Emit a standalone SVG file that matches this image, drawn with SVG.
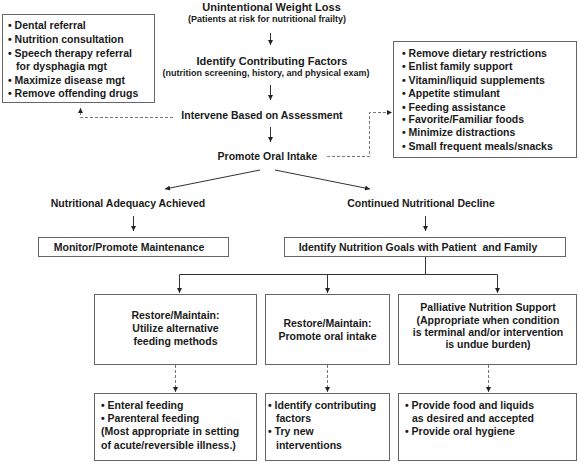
<svg xmlns="http://www.w3.org/2000/svg" width="578" height="462" viewBox="0 0 578 462">
<defs>
<style>
.t{font-family:"Liberation Sans",Arial,sans-serif;font-weight:bold;font-size:10.5px;fill:#1a1a1a}
.c{text-anchor:middle}
.s{font-size:9px}
.h{font-size:11px}
.box{fill:#fff;stroke:#666;stroke-width:1}
.ln{stroke:#333;fill:none;stroke-width:1}
.dash{stroke:#777;fill:none;stroke-width:1;stroke-dasharray:3 2}
</style>
<marker id="ah" viewBox="0 0 10 10" refX="10" refY="5" markerWidth="7" markerHeight="5" markerUnits="userSpaceOnUse" orient="auto">
<path d="M0,0 L10,5 L0,10 z" fill="#222"/>
</marker>
</defs>
<rect width="578" height="462" fill="#fff"/>
<g id="connectors">
<line class="ln" x1="270.5" y1="33" x2="270.5" y2="45" marker-end="url(#ah)"/>
<line class="ln" x1="270.5" y1="85" x2="270.5" y2="100" marker-end="url(#ah)"/>
<line class="ln" x1="270.5" y1="127" x2="270.5" y2="142" marker-end="url(#ah)"/>
<polyline class="dash" points="173,117.5 80.5,117.5 80.5,108" marker-end="url(#ah)"/>
<polyline class="dash" points="327,156.5 369.5,156.5 369.5,112.5 392,112.5" marker-end="url(#ah)"/>
<line class="ln" x1="260" y1="170" x2="165" y2="189" marker-end="url(#ah)"/>
<line class="ln" x1="275" y1="170" x2="370" y2="189" marker-end="url(#ah)"/>
<line class="ln" x1="133.5" y1="216" x2="133.5" y2="231" marker-end="url(#ah)"/>
<line class="ln" x1="425.5" y1="216" x2="425.5" y2="231" marker-end="url(#ah)"/>
<polyline class="ln" points="425.5,256 425.5,274.5"/>
<polyline class="ln" points="179.5,293 179.5,274.5 497.5,274.5 497.5,293" marker-end="url(#ah)"/>
<line class="ln" x1="179.5" y1="280" x2="179.5" y2="293" marker-end="url(#ah)"/>
<line class="ln" x1="327.5" y1="274.5" x2="327.5" y2="293" marker-end="url(#ah)"/>
<line class="dash" x1="175.5" y1="365" x2="175.5" y2="392" marker-end="url(#ah)"/>
<line class="dash" x1="327.5" y1="365" x2="327.5" y2="392" marker-end="url(#ah)"/>
<line class="dash" x1="488.5" y1="365" x2="488.5" y2="392" marker-end="url(#ah)"/>
</g>
<g id="weight-loss">
<text class="t c h" x="271.5" y="11">Unintentional Weight Loss</text>
<text class="t c s" x="267" y="22">(Patients at risk for nutritional frailty)</text>
</g>
<g id="contributing">
<text class="t c h" x="272" y="65">Identify Contributing Factors</text>
<text class="t c s" x="266" y="76">(nutrition screening, history, and physical exam)</text>
</g>
<g id="left-list">
<rect class="box" x="2.5" y="14.5" width="152" height="88"/>
<text class="t" x="8" y="29">• Dental referral</text>
<text class="t" x="8" y="43">• Nutrition consultation</text>
<text class="t" x="8" y="57">• Speech therapy referral</text>
<text class="t" x="16" y="70">for dysphagia mgt</text>
<text class="t" x="8" y="84">• Maximize disease mgt</text>
<text class="t" x="8" y="97">• Remove offending drugs</text>
</g>
<g id="right-list">
<rect class="box" x="393.5" y="41.5" width="183" height="116"/>
<text class="t" x="402" y="57">• Remove dietary restrictions</text>
<text class="t" x="402" y="70">• Enlist family support</text>
<text class="t" x="402" y="84">• Vitamin/liquid supplements</text>
<text class="t" x="402" y="97">• Appetite stimulant</text>
<text class="t" x="402" y="111">• Feeding assistance</text>
<text class="t" x="402" y="123">• Favorite/Familiar foods</text>
<text class="t" x="402" y="136">• Minimize distractions</text>
<text class="t" x="402" y="150">• Small frequent meals/snacks</text>
</g>
<g id="intervene">
<text class="t c" x="262" y="119">Intervene Based on Assessment</text>
</g>
<g id="promote">
<text class="t c" x="267.5" y="160">Promote Oral Intake</text>
</g>
<g id="adequacy">
<text class="t c" x="128" y="207">Nutritional Adequacy Achieved</text>
</g>
<g id="decline">
<text class="t c" x="421" y="207">Continued Nutritional Decline</text>
</g>
<g id="monitor">
<rect class="box" x="38.5" y="237.5" width="190" height="19"/>
<text class="t c" x="129" y="251">Monitor/Promote Maintenance</text>
</g>
<g id="goals">
<rect class="box" x="284.5" y="237.5" width="281" height="19"/>
<text class="t c" x="418" y="251">Identify Nutrition Goals with Patient&#160; and Family</text>
</g>
<g id="alt-feeding">
<rect class="box" x="94.5" y="294.5" width="162" height="70"/>
<text class="t c" x="175.5" y="319">Restore/Maintain:</text>
<text class="t c" x="175.5" y="332">Utilize alternative</text>
<text class="t c" x="175.5" y="345">feeding methods</text>
</g>
<g id="oral-intake">
<rect class="box" x="265.5" y="294.5" width="124" height="70"/>
<text class="t c" x="327.5" y="327">Restore/Maintain:</text>
<text class="t c" x="327.5" y="340">Promote oral intake</text>
</g>
<g id="palliative">
<rect class="box" x="398.5" y="294.5" width="178" height="70"/>
<text class="t c" x="488" y="311">Palliative Nutrition Support</text>
<text class="t c" x="488" y="324">(Appropriate when condition</text>
<text class="t c" x="488" y="336">is terminal and/or intervention</text>
<text class="t c" x="488" y="348">is undue burden)</text>
</g>
<g id="alt-feeding-list">
<rect class="box" x="94.5" y="393.5" width="162" height="67"/>
<text class="t" x="101" y="409">• Enteral feeding</text>
<text class="t" x="101" y="422">• Parenteral feeding</text>
<text class="t" x="101" y="435">(Most appropriate in setting</text>
<text class="t" x="101" y="449">of acute/reversible illness.)</text>
</g>
<g id="oral-intake-list">
<rect class="box" x="265.5" y="393.5" width="124" height="67"/>
<text class="t" x="268" y="409">• Identify contributing</text>
<text class="t" x="276" y="422">factors</text>
<text class="t" x="268" y="435">• Try new</text>
<text class="t" x="276" y="449">interventions</text>
</g>
<g id="palliative-list">
<rect class="box" x="398.5" y="393.5" width="178" height="67"/>
<text class="t" x="405" y="409">• Provide food and liquids</text>
<text class="t" x="412" y="422">as desired and accepted</text>
<text class="t" x="405" y="435">• Provide oral hygiene</text>
</g>
</svg>
